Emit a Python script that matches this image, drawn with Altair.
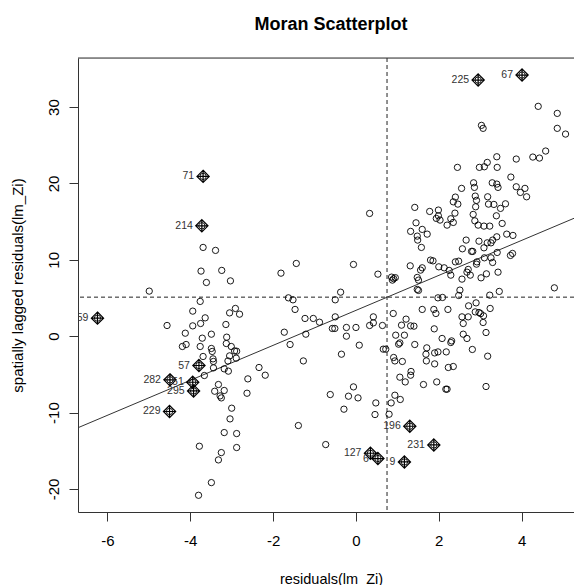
import altair as alt
import pandas as pd

# residuals(lm_Zi) and their spatially lagged values, one pair per observation
resid = [
    -3.69, -3.39, -3.74, -3.24, -3.61, -3.03, -1.81, -4.99, -1.63, -3.76,
    -3.94, -2.91, -3.05, -2.81, -3.64, -3.75, -3.94, -4.56, -3.14, -1.73,
    -1.59, -4.12, -3.49, -3.71, -3.12, -4.19, -4.10, -3.76, -3.13, -3.49,
    -3.47, -3.01, -3.69, -3.45, -3.44, -2.93, -2.88, -3.05, -2.89, -3.09,
    -3.44, -3.18, -3.08, -2.34, -2.19, -3.66, -2.61, -3.32, -3.41, -3.18,
    -3.28, -3.25, -2.63, -3.00, -3.04, -3.18, -2.88, -3.78, -2.88, -3.25,
    -3.32, -3.49, -3.80,
    4.40, 4.86, 4.86, 5.06, 3.03, 3.07, 3.40, 3.17, 3.10, 2.98,
    3.41, 2.45, 3.87, 4.27, 4.43, 4.58, 3.74, 2.84, 2.86, 3.29,
    3.40, 3.43, 3.87, 4.08, 3.97, 4.12, 2.55, 2.88, 2.40, 2.91,
    2.35, 2.46, 3.18, 3.20, 3.33, 3.61, 2.89, 3.49, 1.42, 1.78,
    1.99, 1.99, 1.94, 2.03, 2.29, 2.39, 2.35, 2.20, 2.83, 2.87,
    3.39, 2.95, 3.09, 3.23, 3.53, 0.33, 1.45, 1.32, 1.60, 1.72,
    1.48, 1.49, 1.58, 2.66, 2.57, 2.97, 3.17, 3.26, 3.40, 3.30,
    3.09, 3.64, 3.79, 2.79, 2.82, 3.41, 3.26, 3.10, 3.30, 2.92,
    2.91, 3.73, 3.78, 2.48, 2.40, 1.80, 1.86, 1.31, 1.60, 1.56,
    2.00, 2.13, 2.25, 2.29, 2.71, 2.68, 2.76, 2.56, 3.02, 3.15,
    3.43, 0.86, 0.88, 0.91, 0.95, 1.48, 1.51, 1.48, 1.51, 2.51,
    2.48, 1.98, 2.09, 3.23, 3.46, 4.79,
    -1.44, -0.06, 0.53, -0.37, -0.50, -1.52, -1.47, -0.50, -1.23, -1.03,
    -0.88, -0.57, -0.51, -0.23, 0.00, 0.33, 0.42, 0.42, 0.64, 0.90,
    1.10, 1.21, 1.32, 1.40, 1.60, 1.88, 1.93, 2.22, 1.89, 2.56,
    2.71, 2.72, 2.88, 2.90, 2.97, 3.01, 3.08, 3.24, 2.59, 3.07,
    3.14, 2.59, 2.68, 2.08, 2.31, 2.29, 2.81, 3.18, 1.42, 1.06,
    1.03, 0.96, 1.17, 0.66, 0.72, 1.71, 1.69, 1.90, 1.98, 2.18,
    0.91, 0.94, 1.12, 1.70, 1.90, 2.23, 2.35, 1.06, 1.19, 1.32,
    1.33, 1.63, 1.95, 2.17, 2.20, 3.14, -0.62, -0.06, -0.18, 0.05,
    -0.29, 0.48, 0.46, 0.85, 0.94, 1.07, 0.80, -1.39, -0.73, -1.27,
    -1.21, -0.23, 0.08, -0.35,
]
lagged = [
    11.62, 11.23, 8.52, 8.61, 7.03, 7.24, 8.25, 5.90, 5.02, 4.55,
    3.28, 3.63, 3.05, 2.88, 2.40, 1.66, 1.35, 1.40, 1.53, 0.52,
    -1.09, 0.39, 0.26, -0.26, -0.13, -1.35, -1.09, -1.35, -0.96, -1.61,
    -2.00, -1.35, -2.66, -2.97, -3.31, -1.93, -1.97, -2.58, -2.88, -3.24,
    -4.15, -4.28, -4.58, -4.10, -5.11, -5.15, -5.59, -6.33, -7.21, -7.11,
    -7.82, -8.08, -7.47, -9.43, -10.83, -12.62, -12.75, -14.41, -14.58, -15.24,
    -16.20, -19.17, -20.83,
    30.09, 29.17, 27.21, 26.46, 27.60, 27.21, 23.49, 22.75, 22.18, 22.10,
    22.10, 22.10, 23.19, 23.45, 23.32, 24.24, 20.83, 20.08, 19.48, 20.08,
    19.91, 19.48, 19.56, 19.35, 18.82, 18.25, 19.35, 18.34, 18.21, 17.78,
    17.59, 17.29, 18.25, 17.29, 17.25, 17.33, 16.94, 16.73, 16.86, 16.33,
    16.51, 15.76, 15.42, 15.20, 15.37, 16.11, 14.89, 14.54, 15.94, 15.10,
    15.76, 14.54, 14.41, 14.41, 14.76, 16.07, 14.84, 13.72, 13.98, 13.36,
    13.10, 12.58, 11.62, 12.58, 11.44, 12.44, 12.22, 12.22, 13.01, 12.58,
    11.57, 13.36, 13.19, 11.10, 11.10, 10.96, 10.26, 10.26, 9.65, 9.73,
    9.43, 10.57, 10.83, 9.82, 9.73, 9.96, 9.86, 9.21, 8.95, 8.65,
    9.08, 8.95, 8.61, 7.99, 8.74, 8.38, 7.99, 7.47, 7.64, 8.16,
    8.38, 7.73, 7.34, 7.53, 7.66, 7.69, 7.34, 6.12, 5.99, 6.03,
    5.33, 5.02, 5.07, 5.37, 5.86, 6.33,
    9.52, 9.39, 8.12, 5.76, 4.76, 4.76, 3.50, 2.53, 2.32, 2.32,
    1.83, 1.01, 1.01, 1.14, 1.14, 1.40, 2.53, 1.74, 1.40, 2.97,
    1.44, 2.23, 1.35, 1.31, 3.50, 3.50, 2.97, 3.50, 0.96, 2.53,
    2.53, 3.97, 3.18, 4.36, 3.10, 2.95, 2.66, 3.63, 1.66, 1.79,
    0.48, 0.26, -0.30, -0.30, -0.62, -0.83, -1.74, -2.62, -1.09, -0.88,
    -1.05, 0.13, 0.13, -1.70, -1.70, -1.53, -2.36, -2.19, -2.06, -2.06,
    -2.79, -3.24, -3.31, -3.24, -3.63, -4.10, -3.97, -5.37, -5.99, -5.11,
    -4.62, -6.33, -5.99, -6.94, -6.94, -6.59, -7.64, -6.64, -7.86, -8.08,
    -9.56, -8.74, -10.26, -8.74, -7.73, -8.29, -10.22, -11.70, -14.19, -3.24,
    0.26, 0.00, -1.18, -2.36,
]

# influential observations, drawn with a diamond-plus and labelled
inf_id = ["225", "67", "71", "214", "59", "57", "282", "51",
          "295", "229", "196", "231", "127", "6", "9"]
inf_resid = [2.95, 4.01, -3.69, -3.72, -6.24, -3.79, -4.49, -3.94,
             -3.92, -4.50, 1.30, 1.88, 0.35, 0.53, 1.17]
inf_lagged = [33.53, 34.19, 20.92, 14.45, 2.36, -3.84, -5.72, -6.03,
              -7.17, -9.86, -11.79, -14.24, -15.33, -16.02, -16.47]

# means and the fitted line lagged ~ resid
resid_mean = 0.75
lagged_mean = 5.11
fit_intercept = 3.38
fit_slope = 2.29

x_domain = [-6.71, 5.264]
y_domain = [-23.02, 36.42]
x_ticks = [-6, -4, -2, 0, 2, 4]
y_ticks = [-20, -10, 0, 10, 20, 30]

FONT = "Liberation Sans"
INK = "#222222"
W, H = 496, 454

pts = pd.DataFrame({"x": resid + inf_resid, "y": lagged + inf_lagged})
inf = pd.DataFrame({"x": inf_resid, "y": inf_lagged, "id": inf_id})
fit = pd.DataFrame({"x": x_domain,
                    "y": [fit_intercept + fit_slope * v for v in x_domain]})

xs = alt.Scale(domain=x_domain, nice=False, zero=False)
ys = alt.Scale(domain=y_domain, nice=False, zero=False)

x_axis = alt.Axis(
    values=x_ticks, labelExpr="'' + datum.value", grid=False,
    title="residuals(lm_Zi)", titleFont=FONT, titleFontSize=14.5,
    titleFontWeight="normal", titleColor="black", titleBaseline="alphabetic",
    titleAlign="center", titleX=253, titleY=71.5,
    labelFont=FONT, labelFontSize=15, labelColor="black", labelBaseline="top",
    labelPadding=12, labelFlush=False,
    tickSize=9, tickColor="#333333", domainColor="#333333",
)
y_axis = alt.Axis(
    values=y_ticks, labelExpr="'' + datum.value", grid=False,
    title="spatially lagged residuals(lm_Zi)", titleFont=FONT, titleFontSize=15,
    titleFontWeight="normal", titleColor="black", titleAngle=270,
    titleBaseline="alphabetic", titleAlign="center", titleX=-56, titleY=H / 2,
    labelFont=FONT, labelFontSize=15, labelColor="black", labelAngle=270,
    labelAlign="center", labelBaseline="alphabetic", labelPadding=11,
    labelFlush=False,
    tickSize=9, tickColor="#333333", domainColor="#333333",
)

X = alt.X("x:Q", scale=xs, axis=x_axis)
Y = alt.Y("y:Q", scale=ys, axis=y_axis)

circles = alt.Chart(pts).mark_point(
    shape="circle", size=40, filled=False, color="black",
    strokeWidth=0.9, opacity=1,
).encode(x=X, y=Y)

diamond_plus = "M0,-1L1,0L0,1L-1,0Z M0,-1L0,1 M-1,0L1,0"
diamonds = alt.Chart(inf).mark_point(
    shape=diamond_plus, size=150, filled=False, color="black",
    strokeWidth=1.2, opacity=1,
).encode(x=X, y=Y)

labels = alt.Chart(inf).mark_text(
    align="right", baseline="middle", dx=-9, font=FONT, fontSize=10.5,
    color="#333333", clip=True,
).encode(x=X, y=Y, text="id:N")

fit_line = alt.Chart(fit).mark_line(
    color="#333333", strokeWidth=1, clip=True,
).encode(x=X, y=Y)

frame = pd.DataFrame({"k": [0]})
vline = alt.Chart(frame).mark_rule(
    color=INK, strokeWidth=1, strokeDash=[4, 3],
).encode(x=alt.datum(resid_mean, scale=xs))
hline = alt.Chart(frame).mark_rule(
    color=INK, strokeWidth=1, strokeDash=[4, 3],
).encode(y=alt.datum(lagged_mean, scale=ys))
top_edge = alt.Chart(frame).mark_rule(color="#333333", strokeWidth=1).encode(
    x=alt.value(0), x2=alt.value(W), y=alt.value(0)
)

chart = alt.layer(
    hline, vline, fit_line, circles, diamonds, labels, top_edge
).properties(
    width=W, height=H,
    title=alt.TitleParams(
        "Moran Scatterplot", font=FONT, fontSize=18, fontWeight="bold",
        color="black", anchor="middle", baseline="alphabetic", frame="group",
        offset=10, dx=5,
    ),
    autosize=alt.AutoSizeParams(type="none"),
    padding={"left": 78, "top": 58, "right": 0, "bottom": 73},
).configure_view(stroke=None).configure(background="white")

chart.save("out.html", embed_options={"renderer": "svg", "actions": False})
